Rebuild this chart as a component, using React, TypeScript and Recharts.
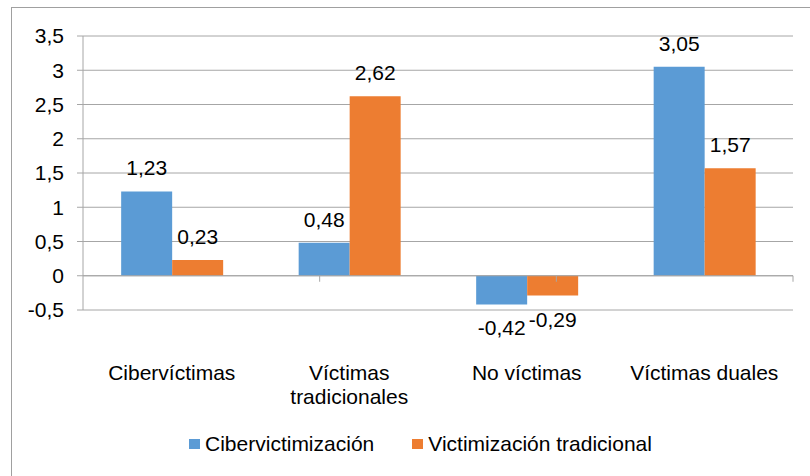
import React from 'react';
import { BarChart, Bar, XAxis, YAxis, CartesianGrid, Legend, LabelList, ReferenceLine } from 'recharts';

// values
const categories = ['Cibervíctimas', 'Víctimas tradicionales', 'No víctimas', 'Víctimas duales'];
const cibervictimizacion = [1.23, 0.48, -0.42, 3.05];
const victimizacionTradicional = [0.23, 2.62, -0.29, 1.57];
const yTicks = [-0.5, 0, 0.5, 1, 1.5, 2, 2.5, 3, 3.5];
// category boundaries on the zero line (0..4 over the four groups)
const boundaries = [1, 2, 3, 4];

const series = [
  { key: 'ciber', name: 'Cibervictimización', color: '#5B9BD5' },
  { key: 'trad', name: 'Victimización tradicional', color: '#ED7D31' },
];

const data = categories.map((name, i) => ({
  name,
  ciber: cibervictimizacion[i],
  trad: victimizacionTradicional[i],
}));

const GRID = '#A6A6A6';
const FONT = 21;
const FAMILY = '"Liberation Sans", Arial, sans-serif';

const comma = (v: any) => String(v).replace('.', ',');
const twoDecimals = (v: any) => Number(v).toFixed(2).replace('.', ',');

// break a category label into lines that fit the group width
let ctx: CanvasRenderingContext2D | null = null;
const wrap = (label: string, maxWidth: number) => {
  if (!ctx) {
    ctx = document.createElement('canvas').getContext('2d');
  }
  if (!ctx) return [label];
  ctx.font = `${FONT}px ${FAMILY}`;
  const lines: string[] = [];
  let line = '';
  for (const word of label.split(' ')) {
    const next = line ? line + ' ' + word : word;
    if (line && ctx.measureText(next).width > maxWidth) {
      lines.push(line);
      line = word;
    } else {
      line = next;
    }
  }
  lines.push(line);
  return lines;
};

const CategoryTick = (props: any) => {
  const { x, y, payload } = props;
  const lines = wrap(payload.value, 170);
  return (
    <text x={x} y={y + 70} textAnchor="middle" fontSize={FONT} fill="#000">
      {lines.map((l, i) => (
        <tspan key={i} x={x} dy={i === 0 ? 0 : 24}>
          {l}
        </tspan>
      ))}
    </text>
  );
};

const LegendContent = () => (
  <div
    style={{
      display: 'flex',
      justifyContent: 'center',
      alignItems: 'center',
      gap: 38,
      height: 24,
      paddingLeft: 48,
      fontSize: FONT,
      color: '#000',
    }}
  >
    {series.map((s) => (
      <div key={s.key} style={{ display: 'flex', alignItems: 'center' }}>
        <span style={{ display: 'inline-block', width: 11, height: 10, background: s.color, marginRight: 5 }} />
        <span>{s.name}</span>
      </div>
    ))}
  </div>
);

const BoundaryTick = (p: any) => (
  <line x1={p.x1} y1={p.y1} x2={p.x1} y2={p.y1 + 6} stroke={GRID} strokeWidth={1} />
);

export default function App() {
  return (
    <div
      style={{
        position: 'absolute',
        left: 0,
        top: 0,
        width: 810,
        height: 476,
        background: '#fff',
        fontFamily: FAMILY,
      }}
    >
      <div
        style={{
          position: 'absolute',
          left: 11,
          top: 7,
          right: 0,
          bottom: 0,
          borderLeft: '1px solid #A0A0A0',
          borderTop: '1px solid #A0A0A0',
        }}
      />
      <BarChart
        width={810}
        height={476}
        data={data}
        margin={{ top: 36, right: 17, left: 0, bottom: 20 }}
        barCategoryGap="21.5%"
        barGap={0}
        style={{ position: 'absolute', left: 0, top: 0 }}
      >
        <CartesianGrid vertical={false} stroke={GRID} strokeDasharray="" />
        <XAxis
          dataKey="name"
          axisLine={false}
          tickLine={false}
          tickSize={0}
          tickMargin={0}
          height={122}
          interval={0}
          tick={<CategoryTick />}
        />
        <XAxis xAxisId="bounds" type="number" domain={[0, 4]} hide />
        <YAxis
          width={83}
          domain={[-0.5, 3.5]}
          ticks={yTicks}
          interval={0}
          tickFormatter={comma}
          axisLine={{ stroke: GRID }}
          tickLine={{ stroke: GRID }}
          tickSize={6}
          tickMargin={13}
          tick={{ fontSize: FONT, fill: '#000' }}
        />
        <ReferenceLine y={0} stroke={GRID} />
        {boundaries.map((b) => (
          <ReferenceLine
            key={b}
            xAxisId="bounds"
            segment={[{ x: b, y: 0 }, { x: b, y: 0 }]}
            shape={BoundaryTick}
          />
        ))}
        <Legend verticalAlign="bottom" content={<LegendContent />} />
        {series.map((s) => (
          <Bar key={s.key} dataKey={s.key} name={s.name} fill={s.color} isAnimationActive={false}>
            <LabelList
              dataKey={s.key}
              position="top"
              offset={16}
              formatter={twoDecimals}
              style={{ fontSize: FONT, fill: '#000' }}
            />
          </Bar>
        ))}
      </BarChart>
    </div>
  );
}
